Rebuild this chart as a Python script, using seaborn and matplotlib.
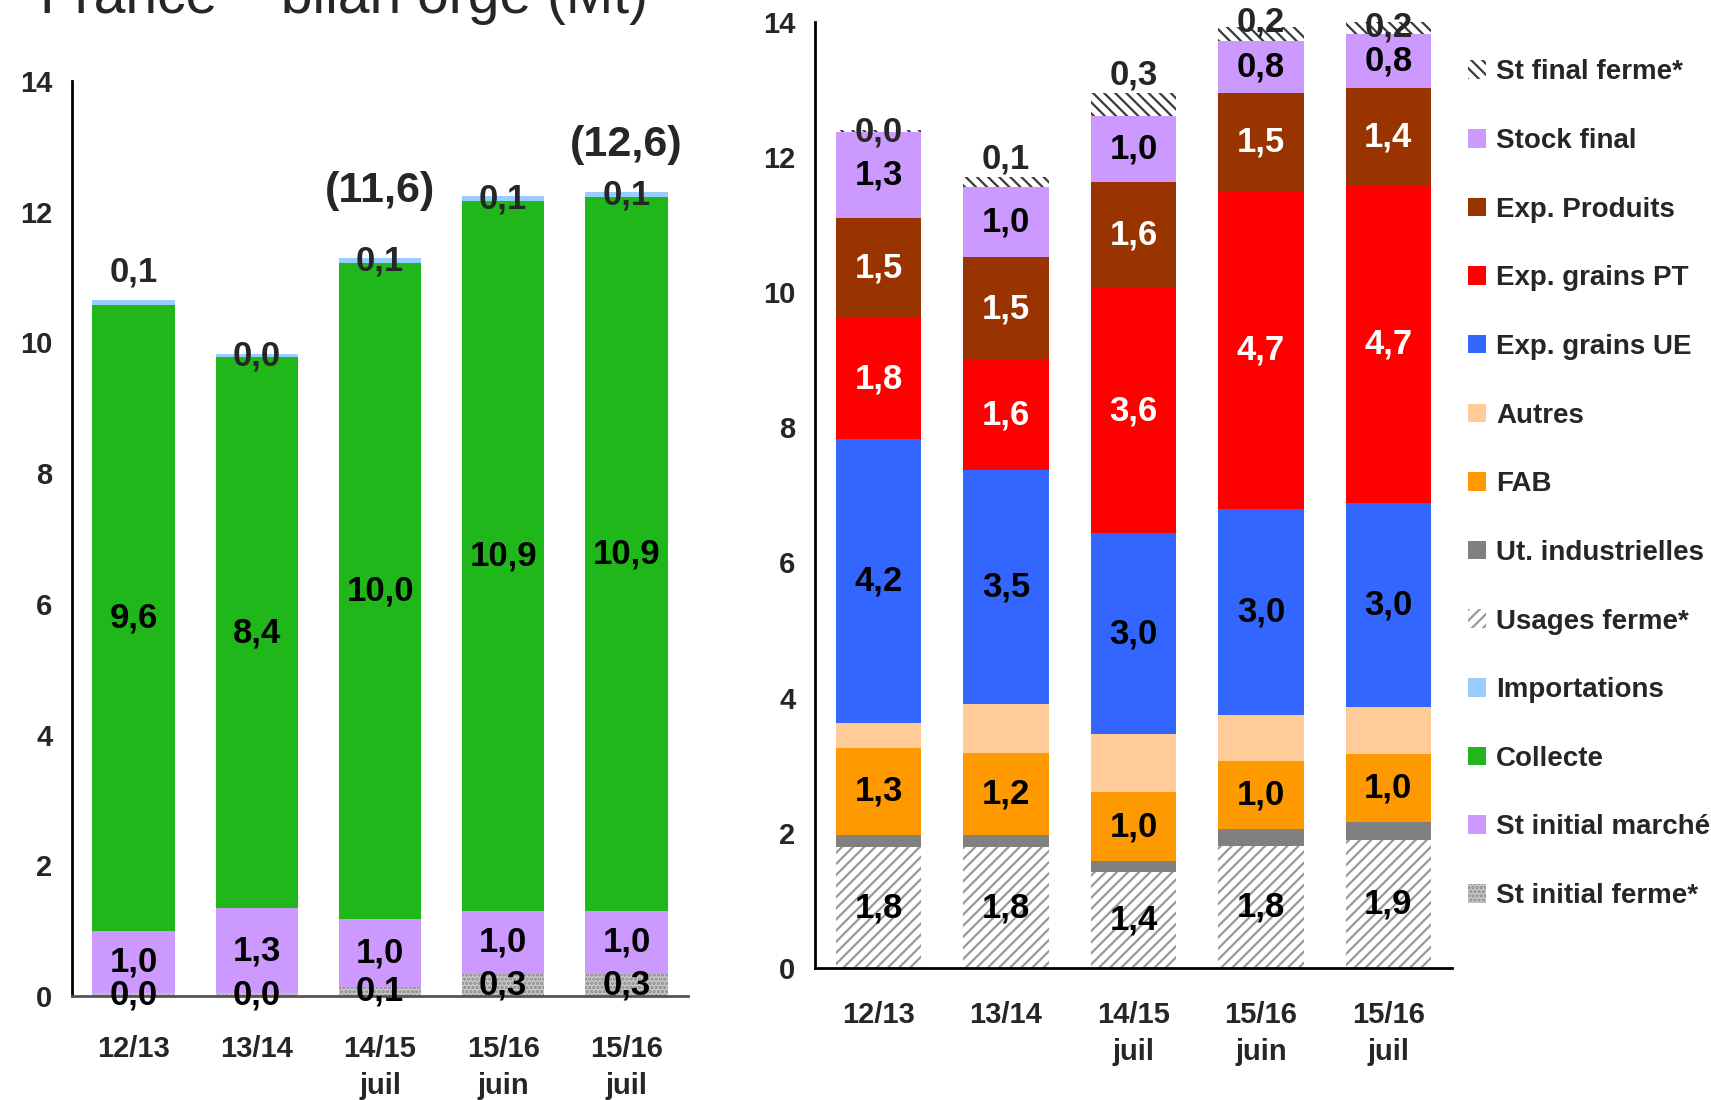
import matplotlib
matplotlib.use('Agg')
import matplotlib.pyplot as plt
from matplotlib.patches import Patch
import numpy as np
import pandas as pd
import seaborn as sns

sns.set_style('white')
plt.rcParams['font.family'] = ['Liberation Sans', 'DejaVu Sans']
plt.rcParams['hatch.linewidth'] = 1.6

campagnes = ['12/13', '13/14', '14/15\njuil', '15/16\njuin', '15/16\njuil']

# bilan gauche : ressources (Mt)
st_init_ferme = [0.04, 0.04, 0.14, 0.34, 0.34]
st_init_marche = [0.96, 1.30, 1.04, 0.96, 0.96]
collecte = [9.58, 8.44, 10.03, 10.86, 10.92]
importations = [0.07, 0.04, 0.08, 0.08, 0.08]
totaux_notes = ['', '', '(11,6)', '', '(12,6)']

# bilan droite : emplois (Mt)
usages_ferme = [1.79, 1.79, 1.42, 1.81, 1.89]
ut_indus = [0.18, 0.18, 0.16, 0.24, 0.27]
fab = [1.29, 1.21, 1.02, 1.02, 1.00]
autres = [0.36, 0.73, 0.86, 0.68, 0.70]
exp_ue = [4.20, 3.46, 2.97, 3.04, 3.02]
exp_pt = [1.80, 1.62, 3.63, 4.70, 4.70]
exp_produits = [1.47, 1.53, 1.57, 1.46, 1.44]
stock_final = [1.28, 1.04, 0.97, 0.76, 0.80]
st_final_ferme = [0.03, 0.14, 0.34, 0.21, 0.21]

# styles : (couleur, hachure, couleur hachure)
styles = {
    'St final ferme*': ('white', '\\\\\\', '#3a3a3a'),
    'Stock final': ('#cc99ff', None, None),
    'Exp. Produits': ('#993300', None, None),
    'Exp. grains PT': ('#ff0000', None, None),
    'Exp. grains UE': ('#3366ff', None, None),
    'Autres': ('#ffcc99', None, None),
    'FAB': ('#ff9900', None, None),
    'Ut. industrielles': ('#808080', None, None),
    'Usages ferme*': ('white', '///', '#999999'),
    'Importations': ('#99ccff', None, None),
    'Collecte': ('#1fb71a', None, None),
    'St initial marché': ('#cc99ff', None, None),
    'St initial ferme*': ('#c8c8c8', '....', '#8a8a8a'),
}

# decalages manuels des etiquettes (unite du graphe)
nudge_import = [0.46, 0.0, 0.0, 0.0, 0.0]
nudge_stfinal = [-0.03, 0.27, 0.27, 0.08, -0.1]
notes_y = [0, 0, 12.32, 0, 13.02]

fmt = lambda v: f'{v:.1f}'.replace('.', ',')


def stack(ax, layers):
    x = np.arange(len(campagnes))
    bottom = np.zeros(len(campagnes))
    out = {}
    for name, vals, show, tcol in layers:
        vals = np.array(vals)
        fc, hatch, hc = styles[name]
        ax.bar(x, vals, 0.67, bottom=bottom, color=fc, hatch=hatch,
               edgecolor=hc if hc else fc, linewidth=0, zorder=2)
        out[name] = (bottom.copy(), vals)
        if show:
            for i, v in enumerate(vals):
                ax.text(x[i], bottom[i] + v / 2, fmt(v), ha='center', va='center',
                        fontsize=25, fontweight='bold', color=tcol, zorder=5)
        bottom = bottom + vals
    return out


def style_axis(ax, pad_x):
    ax.set_xlim(-0.5, 4.5)
    ax.set_ylim(0, 14)
    ax.set_yticks(range(0, 15, 2))
    ax.set_xticks([0.5, 1.5, 2.5, 3.5, 4.5])
    ax.set_xticklabels([])
    ax.set_xticks(range(5), minor=True)
    ax.set_xticklabels(campagnes, minor=True, fontsize=21, fontweight='bold',
                       linespacing=1.4)
    ax.tick_params(axis='x', which='minor', length=0, pad=pad_x)
    ax.tick_params(axis='x', which='major', direction='in', length=9, width=1.5)
    ax.tick_params(axis='y', direction='in', length=8, width=1.5, labelsize=21, pad=14)
    for lab in ax.get_yticklabels():
        lab.set_fontweight('bold')
    sns.despine(ax=ax)
    for s in ['left', 'bottom']:
        ax.spines[s].set_linewidth(2)
        ax.spines[s].set_color('black')
    ax.grid(False)


fig = plt.figure(figsize=(17.11, 11.0), dpi=100)
ax1 = fig.add_axes([0.0421, 0.0945, 0.3600, 0.8318])
ax2 = fig.add_axes([0.4763, 0.12, 0.3723, 0.8602])

# ---- gauche
left = stack(ax1, [
    ('St initial ferme*', st_init_ferme, True, 'black'),
    ('St initial marché', st_init_marche, True, 'black'),
    ('Collecte', collecte, True, 'black'),
    ('Importations', importations, False, 'black'),
])
b, v = left['Importations']
for i in range(5):
    ax1.text(i, b[i] + v[i] / 2 + nudge_import[i], fmt(v[i]), ha='center', va='center',
             fontsize=25, fontweight='bold', zorder=5)
    if totaux_notes[i]:
        ax1.text(i, notes_y[i], totaux_notes[i], ha='center', va='center',
                 fontsize=31, fontweight='bold')
style_axis(ax1, 28)
ax1.spines['bottom'].set_color('#555555')

# ---- droite
right = stack(ax2, [
    ('Usages ferme*', usages_ferme, True, 'black'),
    ('Ut. industrielles', ut_indus, False, 'black'),
    ('FAB', fab, True, 'black'),
    ('Autres', autres, False, 'black'),
    ('Exp. grains UE', exp_ue, True, 'black'),
    ('Exp. grains PT', exp_pt, True, 'white'),
    ('Exp. Produits', exp_produits, True, 'white'),
    ('Stock final', stock_final, True, 'black'),
    ('St final ferme*', st_final_ferme, False, 'black'),
])
b, v = right['St final ferme*']
for i in range(5):
    ax2.text(i, b[i] + v[i] + nudge_stfinal[i], fmt(v[i]), ha='center', va='center',
             fontsize=25, fontweight='bold', zorder=5, clip_on=False)
style_axis(ax2, 24)

handles = []
for name, (fc, hatch, hc) in styles.items():
    handles.append(Patch(facecolor=fc, hatch=hatch, edgecolor=hc if hc else fc,
                         linewidth=0, label=name))
fig.legend(handles=handles, loc='upper left', bbox_to_anchor=(0.858, 0.946),
           frameon=False, prop={'size': 20, 'weight': 'bold'},
           handlelength=0.65, handleheight=0.65, handletextpad=0.35,
           labelspacing=1.535, borderpad=0, borderaxespad=0)

fig.text(0.0234, 1 - 13 / 1100, 'France – bilan orge (Mt)', fontsize=41,
         ha='left', va='baseline')

plt.savefig('out.png', dpi=100)
